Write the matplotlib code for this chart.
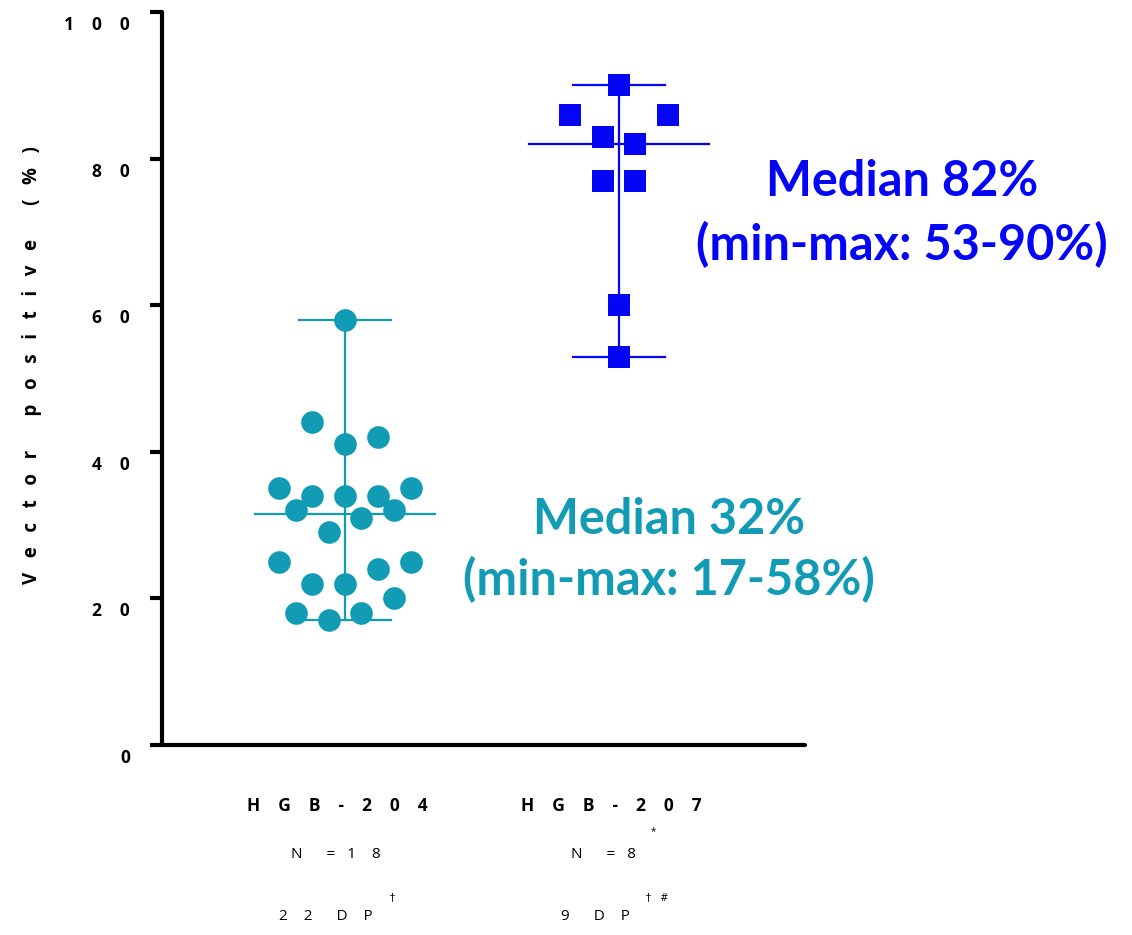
import numpy as np
import matplotlib.pyplot as plt
from matplotlib.transforms import ScaledTranslation

# data
groups = ['HGB-204', 'HGB-207']
n_patients = ['18', '8']
n_datapoints = ['22', '9']
hgb204_values = [58, 44, 42, 41, 35, 35, 34, 34, 34, 32, 32, 31, 29,
                 25, 25, 24, 22, 22, 20, 18, 18, 17]
hgb207_values = [90, 86, 86, 83, 82, 77, 77, 60, 53]
ytick_values = [0, 20, 40, 60, 80, 100]

# swarm columns (layout only)
hgb204_cols = [0, -2, 2, 0, -4, 4, -2, 0, 2, -3, 3, 1, -1,
               -4, 4, 2, -2, 0, 3, -3, 1, -1]
hgb207_cols = [0, -3, 3, -1, 1, -1, 1, 0, 0]
col_step = 0.06

teal = '#129bb5'
blue = '#0505f5'
ann_font = 'Lato'
lab_font = 'Open Sans'


def spaced(s, n=3):
    return (' ' * n).join(s)


W, H = 1132, 935
fig = plt.figure(figsize=(W / 100, H / 100), dpi=100)
ax = fig.add_axes([162 / W, (H - 745) / H, 643 / W, 733 / H])


def fx(px):
    return px / W


def fy(py):
    return (H - py) / H


series = [(hgb204_values, hgb204_cols, 'o', teal),
          (hgb207_values, hgb207_cols, 's', blue)]
for i, (vals, cols, mk, col) in enumerate(series):
    xc = i + 1
    vals = np.array(vals)
    xs = xc + np.array(cols) * col_step
    med = np.median(vals)
    lw = 1.6
    ax.plot([xc, xc], [vals.min(), vals.max()], color=col, lw=lw, zorder=2)
    ax.plot([xc - 0.167, xc + 0.167], [vals.max()] * 2, color=col, lw=lw, zorder=2)
    ax.plot([xc - 0.167, xc + 0.167], [vals.min()] * 2, color=col, lw=lw, zorder=2)
    ax.plot([xc - 0.33, xc + 0.33], [med, med], color=col, lw=lw, zorder=2)
    ax.plot(xs, vals, linestyle='none', marker=mk, ms=16.3, color=col,
            markeredgewidth=0, zorder=3)

ax.set_xlim(0.332, 2.679)
ax.set_ylim(0, 100)
for s in ['top', 'right']:
    ax.spines[s].set_visible(False)
for s in ['left', 'bottom']:
    ax.spines[s].set_linewidth(3)
    ax.spines[s].set_capstyle('round')
ax.set_xticks([])
ax.set_yticks(ytick_values)
ax.tick_params(axis='y', length=9, width=3, direction='out', labelleft=False)

# y tick labels sit a bit below their ticks
off = ScaledTranslation(0, -0.13, fig.dpi_scale_trans)
for v in ytick_values:
    ax.text(-32 / 643, v, spaced(str(v), 4), transform=ax.get_yaxis_transform() + off,
            ha='right', va='center', fontsize=12.5, fontweight='bold', family=lab_font)

fig.text(fx(32), fy(365), spaced('Vector positive (%)', 3), rotation=90,
         ha='center', va='center', fontsize=13.5, fontweight='bold', family=lab_font)

# group labels under the axis
name_x = [337, 611]
npat_x = [336, 603]
ndp_x = [326, 595]
for i in range(2):
    fig.text(fx(name_x[i]), fy(806), spaced(groups[i], 4), ha='center', va='center',
             fontsize=12.5, fontweight='bold', family=lab_font)
    fig.text(fx(npat_x[i]), fy(854), 'N      =   ' + spaced(n_patients[i], 4),
             ha='center', va='center', fontsize=11, family=lab_font)
    fig.text(fx(ndp_x[i]), fy(917), spaced(n_datapoints[i], 4) + '      D    P',
             ha='center', va='center', fontsize=11, family=lab_font)
fig.text(fx(653), fy(832), '*', ha='center', va='center', fontsize=7, family=lab_font)
fig.text(fx(392), fy(897), '\u2020', ha='center', va='center', fontsize=7,
         family=['DejaVu Sans'])
fig.text(fx(657), fy(897), '\u2020   #', ha='center', va='center', fontsize=7,
         family=['DejaVu Sans'])

# annotations
ann = [(669, 519, 'Median 32%', teal), (669, 580, '(min-max: 17-58%)', teal),
       (902, 182, 'Median 82%', blue), (902, 245, '(min-max: 53-90%)', blue)]
for x, y, s, c in ann:
    fig.text(fx(x), fy(y), s, ha='center', va='center', fontsize=35,
             fontweight='bold', color=c, family=ann_font)

fig.savefig('out.png', dpi=100)
